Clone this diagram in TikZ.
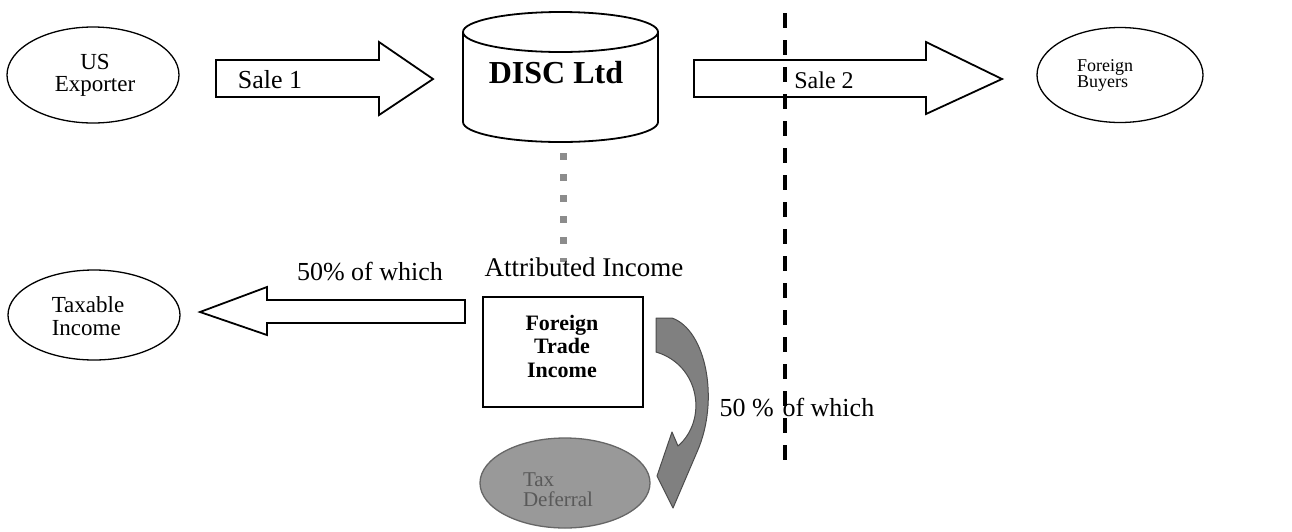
\documentclass[tikz,border=0pt]{standalone}
\usepackage{fontspec}
\setmainfont{Liberation Serif}
\usetikzlibrary{shapes.geometric}
\begin{document}
\begin{tikzpicture}[x=1pt,y=-1pt,
  ell/.style={draw, ellipse, line width=1.3pt, inner sep=0pt},
  blockarrow/.style={draw, line width=1.8pt, fill=white, line join=miter},
  lbl/.style={inner sep=0pt, align=center}
]
\useasboundingbox (0,0) rectangle (1292,531);

% ellipses
\node[ell, minimum width=172pt, minimum height=96pt] (usexp) at (93,75) {};
\node[lbl, align=center, font=\fontsize{23}{22}\selectfont] (usexpt) at (95,75) {US\\Exporter};
\node[ell, minimum width=166pt, minimum height=95pt] (fb) at (1120,75) {};
\node[lbl, align=left, font=\fontsize{18}{16}\selectfont] (fbt) at (1105,75) {Foreign\\Buyers};
\node[ell, minimum width=172pt, minimum height=90pt] (taxinc) at (94,315) {};
\node[lbl, align=left, font=\fontsize{23}{23}\selectfont] (taxinct) at (88,316) {Taxable\\Income};
\node[ell, minimum width=170pt, minimum height=90pt, fill=black!40, draw=black!60] (taxdef) at (565,483) {};
\node[lbl, align=left, text=black!65, font=\fontsize{21}{20}\selectfont] (taxdeft) at (558,490) {Tax\\Deferral};

% cylinder
\draw[line width=1.8pt, fill=white] (463,32) -- (463,122) arc[start angle=180, end angle=0, x radius=97.5, y radius=20] -- (658,32);
\draw[line width=1.8pt] (560.5,32) ellipse[x radius=97.5, y radius=20];
\node[lbl, font=\fontsize{32}{32}\selectfont\bfseries] (disc) at (556,73) {DISC Ltd};

% Sale 1 arrow
\draw[blockarrow] (216,60) -- (379,60) -- (379,42) -- (433,79) -- (379,115) -- (379,97) -- (216,97) -- cycle;
\node[lbl, font=\fontsize{26}{26}\selectfont] (sale1) at (270,80) {Sale 1};

% Sale 2 arrow
\draw[blockarrow] (694,60) -- (926,60) -- (926,42) -- (1002,79) -- (926,114) -- (926,97) -- (694,97) -- cycle;
\node[lbl, font=\fontsize{24}{24}\selectfont] (sale2) at (824,80) {Sale 2};

% left arrow
\draw[blockarrow] (465,300) -- (267,300) -- (267,287) -- (200,312) -- (267,335) -- (267,323) -- (465,323) -- cycle;
\node[lbl, font=\fontsize{26}{26}\selectfont] (fifty1) at (370,272) {50\% of which};

% dotted grey link
\coordinate (dtop) at (563,153);
\coordinate (dbot) at (563,262);
\draw[line width=7pt, draw=black!45, dash pattern=on 7pt off 14pt] (dtop) -- (dbot);

\node[lbl, font=\fontsize{27}{27}\selectfont] (attr) at (584,267) {Attributed Income};

% FTI box
\node[draw, line width=1.5pt, minimum width=160pt, minimum height=110pt, inner sep=0pt] (ftibox) at (563,352) {};
\node[lbl, font=\fontsize{22}{23.5}\selectfont\bfseries] (fti) at (562,346) {Foreign\\Trade\\Income};

% curved arrow
\filldraw[fill=black!50, draw=black!70, line width=1pt, line join=round]
  (656,318) -- (672,318) .. controls (706,330) and (720,400) .. (697,452)
  -- (673,508) -- (657,476) -- (672,432) -- (678,446)
  .. controls (708,420) and (700,365) .. (656,352) -- cycle;

% vertical dashed line
\coordinate (vtop) at (785,13);
\coordinate (vbot) at (785,460);
\draw[line width=3.5pt, dash pattern=on 15pt off 12pt] (vtop) -- (vbot);

\node[lbl, font=\fontsize{26}{26}\selectfont, fill=none] (fifty2) at (797,408) {50 \%\,\,of which};
\end{tikzpicture}
\end{document}
